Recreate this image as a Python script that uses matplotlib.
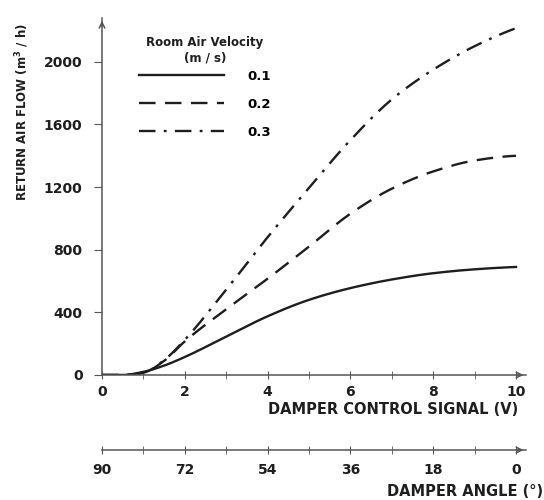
import matplotlib
matplotlib.use('Agg')
import matplotlib.pyplot as plt
from scipy.interpolate import PchipInterpolator
import numpy as np

# values
signal = [0, 0.5, 1, 1.5, 2, 3, 4, 5, 6, 7, 8, 9, 10]
flow_01 = [0, 0, 20, 60, 115, 245, 375, 480, 555, 610, 650, 675, 690]
flow_02 = [0, 0, 15, 90, 215, 420, 615, 820, 1030, 1190, 1300, 1370, 1400]
flow_03 = [0, 0, 15, 95, 225, 545, 880, 1195, 1500, 1760, 1950, 2100, 2215]
velocities = ['0.1', '0.2', '0.3']
y_ticks = [0, 400, 800, 1200, 1600, 2000]
x_ticks = [0, 2, 4, 6, 8, 10]
angle_labels = ['90', '72', '54', '36', '18', '0']

ink = '#1e1e1e'
axc = '#555555'
plt.rcParams['font.family'] = 'DejaVu Sans'
plt.rcParams['font.weight'] = 'bold'

fig = plt.figure(figsize=(5.44, 5.0), dpi=100)
ax = fig.add_axes([0.1875, 0.25, 0.78, 0.714])

styles = ['-', (0, (7, 4)), (0, (7, 3.5, 1.2, 3.5))]
for ys, ls, lab in zip([flow_01, flow_02, flow_03], styles, velocities):
    xs = np.linspace(0, 10, 200)
    ax.plot(xs, PchipInterpolator(signal, ys)(xs), color=ink, lw=1.7,
            linestyle=ls, label=lab)

ax.set_xlim(0, 10.25)
ax.set_ylim(0, 2280)
ax.set_yticks(y_ticks)
ax.set_xticks(x_ticks)
ax.set_xticks(range(1, 10, 2), minor=True)
for s in ['top', 'right']:
    ax.spines[s].set_visible(False)
for s in ['left', 'bottom']:
    ax.spines[s].set_color(axc)
    ax.spines[s].set_linewidth(1.1)
ax.tick_params(axis='y', direction='out', length=6, color=axc,
               labelsize=10, pad=8, labelcolor=ink)
ax.tick_params(axis='x', which='both', direction='inout', length=6,
               color=axc, labelsize=10, pad=4, labelcolor=ink)

# arrowheads on axes
ax.annotate('', xy=(1.0, 0), xytext=(0.97, 0), xycoords='axes fraction',
            arrowprops=dict(arrowstyle='->', color=axc, lw=1.1))
ax.annotate('', xy=(0, 1.0), xytext=(0, 0.97), xycoords='axes fraction',
            arrowprops=dict(arrowstyle='->', color=axc, lw=1.1))

ax.legend(frameon=False, loc='upper left', bbox_to_anchor=(0.06, 0.889),
          handlelength=6.4, handletextpad=1.8, labelspacing=1.15,
          fontsize=9.5)
fig.text(0.377, 0.899, 'Room Air Velocity\n(m / s)', ha='center',
         va='center', fontsize=8.5, linespacing=1.25, color=ink)

fig.text(0.953, 0.18, 'DAMPER CONTROL SIGNAL (V)', ha='right', va='center',
         fontsize=10.5, color=ink)
fig.text(0.04, 0.776, 'RETURN AIR FLOW (m$^3$ / h)', rotation=90,
         ha='center', va='center', fontsize=8.5, color=ink)

# damper angle scale
ax2 = fig.add_axes([0.1875, 0.10, 0.78, 0.001])
ax2.set_xlim(0, 10.25)
ax2.set_yticks([])
for s in ['top', 'right', 'left']:
    ax2.spines[s].set_visible(False)
ax2.spines['bottom'].set_color(axc)
ax2.spines['bottom'].set_linewidth(1.1)
ax2.set_xticks(x_ticks)
ax2.set_xticklabels(angle_labels)
ax2.set_xticks(range(1, 10, 2), minor=True)
ax2.tick_params(axis='x', which='both', direction='inout', length=6,
                color=axc, labelsize=10, pad=6, labelcolor=ink)
ax2.annotate('', xy=(1.0, 0), xytext=(0.97, 0), xycoords='axes fraction',
             arrowprops=dict(arrowstyle='->', color=axc, lw=1.1))
fig.text(0.998, 0.016, 'DAMPER ANGLE (°)', ha='right', va='center',
         fontsize=10.5, color=ink)

fig.savefig('out.png', dpi=100)
